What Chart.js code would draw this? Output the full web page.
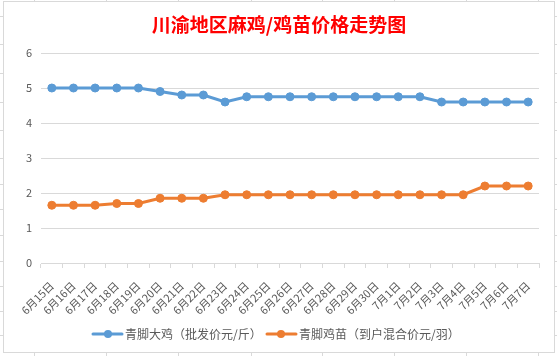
<!DOCTYPE html>
<html>
<head>
<meta charset="utf-8">
<script src="https://cdn.jsdelivr.net/npm/chart.js@4/dist/chart.umd.min.js"></script>
<style>
html,body{margin:0;padding:0;background:#fff;}
#wrap{width:557px;height:356px;position:relative;}
</style>
</head>
<body>
<div id="wrap"><canvas id="c"></canvas></div>
<script>
const titleText = '川渝地区麻鸡/鸡苗价格走势图';
const categories = ['6月15日','6月16日','6月17日','6月18日','6月19日','6月20日','6月21日','6月22日','6月23日','6月24日','6月25日','6月26日','6月27日','6月28日','6月29日','6月30日','7月1日','7月2日','7月3日','7月4日','7月5日','7月6日','7月7日'];
const seriesNames = ['青脚大鸡（批发价元/斤）','青脚鸡苗（到户混合价元/羽）'];
const bigChicken = [5.0,5.0,5.0,5.0,5.0,4.9,4.8,4.8,4.6,4.75,4.75,4.75,4.75,4.75,4.75,4.75,4.75,4.75,4.6,4.6,4.6,4.6,4.6];
const chicks = [1.65,1.65,1.65,1.7,1.7,1.85,1.85,1.85,1.95,1.95,1.95,1.95,1.95,1.95,1.95,1.95,1.95,1.95,1.95,1.95,2.2,2.2,2.2];

const BLUE = '#5B9BD5', ORANGE = '#ED7D31', GRID = '#d9d9d9', TXT = '#595959';
const FONT = '"Noto Sans CJK SC","Noto Sans",sans-serif';

const deco = {
  id: 'deco',
  beforeDraw(chart) {
    const c = chart.ctx;
    c.save();
    c.fillStyle = '#fff';
    c.fillRect(0, 0, chart.width, chart.height);
    c.strokeStyle = GRID;
    c.lineWidth = 1;
    const colX = [34, 106, 178, 251, 322, 394, 466, 538];
    const rowY = [16, 44, 73, 102, 130, 158, 184, 209, 235, 261, 286, 311, 335];
    c.beginPath();
    colX.forEach(x => { c.moveTo(x + 0.5, 353); c.lineTo(x + 0.5, 356); c.moveTo(x + 0.5, 0); c.lineTo(x + 0.5, 1); });
    rowY.forEach(y => { c.moveTo(0, y + 0.5); c.lineTo(3, y + 0.5); c.moveTo(555, y + 0.5); c.lineTo(557, y + 0.5); });
    c.stroke();
    c.strokeRect(3.5, 1.5, 551, 351);
    c.restore();
  },
  afterDraw(chart) {
    const c = chart.ctx;
    c.save();
    c.fillStyle = '#ff0000';
    c.font = 'bold 19px ' + FONT;
    c.textAlign = 'center';
    c.textBaseline = 'middle';
    c.fillText(titleText, 279, 25);
    // legend
    const items = [
      {x1: 93, x2: 122, cx: 108, tx: 125, color: BLUE, text: seriesNames[0]},
      {x1: 267, x2: 296, cx: 281, tx: 299, color: ORANGE, text: seriesNames[1]}
    ];
    const ly = 334;
    c.font = '12px ' + FONT;
    c.textAlign = 'left';
    items.forEach(it => {
      c.strokeStyle = it.color;
      c.lineWidth = 3;
      c.lineCap = 'round';
      c.beginPath(); c.moveTo(it.x1, ly); c.lineTo(it.x2, ly); c.stroke();
      c.fillStyle = it.color;
      c.beginPath(); c.arc(it.cx, ly, 4, 0, Math.PI * 2); c.fill();
      c.fillStyle = TXT;
      c.fillText(it.text, it.tx, ly);
    });
    c.restore();
  }
};

new Chart(document.getElementById('c'), {
  type: 'line',
  data: {
    labels: categories,
    datasets: [
      {label: seriesNames[0], data: bigChicken, borderColor: BLUE, backgroundColor: BLUE,
       borderWidth: 3, pointRadius: 4, pointHoverRadius: 4, pointBorderWidth: 1, tension: 0},
      {label: seriesNames[1], data: chicks, borderColor: ORANGE, backgroundColor: ORANGE,
       borderWidth: 3, pointRadius: 4, pointHoverRadius: 4, pointBorderWidth: 1, tension: 0}
    ]
  },
  options: {
    responsive: true,
    maintainAspectRatio: false,
    animation: false,
    events: [],
    layout: {padding: {top: 53, left: 0, right: 18, bottom: 0}},
    plugins: {legend: {display: false}, title: {display: false}, tooltip: {enabled: false}},
    scales: {
      x: {
        offset: true,
        grid: {offset: true, display: true, drawOnChartArea: false, color: GRID, tickLength: 5},
        border: {display: true, color: GRID, width: 1},
        ticks: {color: TXT, font: {size: 11, family: FONT}, minRotation: 45, maxRotation: 45, autoSkip: false, padding: 11},
        afterFit(s) { s.height = 93; }
      },
      y: {
        min: 0, max: 6,
        ticks: {stepSize: 1, color: TXT, font: {size: 11, family: FONT}, padding: 9},
        grid: {color: GRID, drawTicks: false},
        border: {display: false},
        afterFit(s) { s.width = 41; }
      }
    }
  },
  plugins: [deco]
});
</script>
</body>
</html>
